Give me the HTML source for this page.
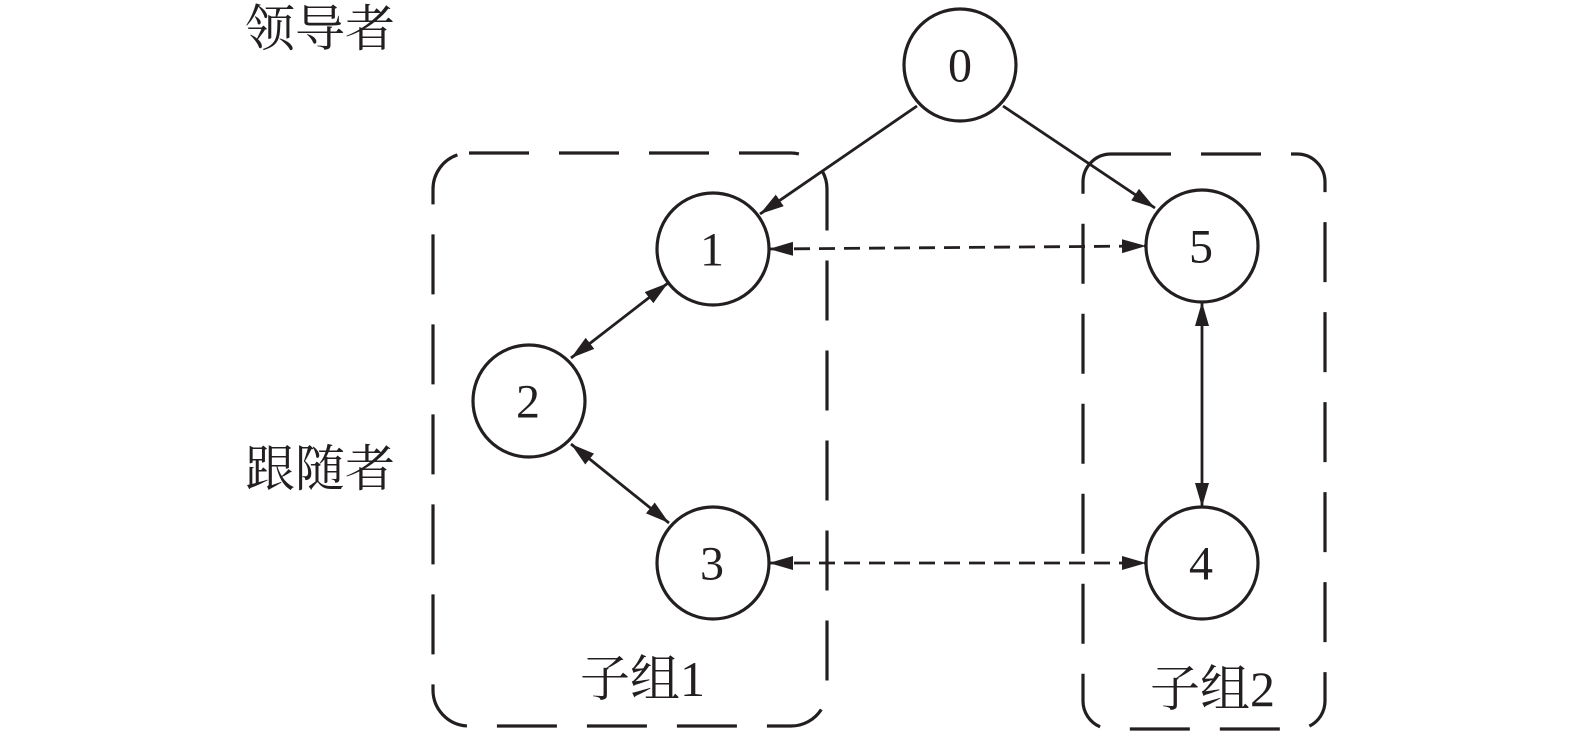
<!DOCTYPE html>
<html><head><meta charset="utf-8"><style>
html,body{margin:0;padding:0;background:#fff;}
svg{display:block;}
text{font-family:"Liberation Serif","Noto Serif CJK SC",serif;fill:#231f20;}
.cjk{font-family:"Liberation Serif","Noto Serif CJK SC","Noto Sans CJK SC",serif;}
</style></head><body>
<svg width="1575" height="737" viewBox="0 0 1575 737" xmlns="http://www.w3.org/2000/svg">
<defs>
<marker id="ah" viewBox="0 0 24 14" refX="24" refY="7" markerWidth="24" markerHeight="14" markerUnits="userSpaceOnUse" orient="auto-start-reverse">
<path d="M0,0 L24,7 L0,14 z" fill="#231f20"/>
</marker>
</defs>
<g fill="none" stroke="#231f20" stroke-width="3.2">
<rect x="433" y="153" width="394" height="573" rx="36" stroke-dasharray="60 30"/>
<rect x="1083" y="154" width="242" height="575" rx="28" stroke-dasharray="60 30"/>
<circle cx="960" cy="65" r="56"/>
<circle cx="713" cy="249" r="56"/>
<circle cx="1202" cy="246" r="56"/>
<circle cx="529" cy="401" r="56"/>
<circle cx="713" cy="563" r="56"/>
<circle cx="1202" cy="563" r="56"/>
<g stroke-width="2.8">
<line x1="917" y1="106" x2="760" y2="214" marker-end="url(#ah)"/>
<line x1="1003" y1="106" x2="1155" y2="208" marker-end="url(#ah)"/>
<line x1="769" y1="249" x2="1146" y2="246" stroke-dasharray="16 9" marker-start="url(#ah)" marker-end="url(#ah)"/>
<line x1="769" y1="563" x2="1146" y2="563" stroke-dasharray="16 9" marker-start="url(#ah)" marker-end="url(#ah)"/>
<line x1="668" y1="283" x2="571" y2="358" marker-start="url(#ah)" marker-end="url(#ah)"/>
<line x1="571" y1="444" x2="669" y2="523" marker-start="url(#ah)" marker-end="url(#ah)"/>
<line x1="1202" y1="302" x2="1202" y2="507" marker-start="url(#ah)" marker-end="url(#ah)"/>
</g>
</g>
<g font-size="48" text-anchor="middle" dominant-baseline="central">
<text x="960" y="66">0</text>
<text x="712" y="250">1</text>
<text x="1201" y="247">5</text>
<text x="528" y="402">2</text>
<text x="712" y="564">3</text>
<text x="1201" y="564">4</text>
</g>
<g font-size="50" class="cjk">
<text x="245" y="46">领导者</text>
<text x="245" y="486">跟随者</text>
<text x="580" y="696">子组1</text>
<text x="1150" y="706">子组2</text>
</g>
</svg>
</body></html>
